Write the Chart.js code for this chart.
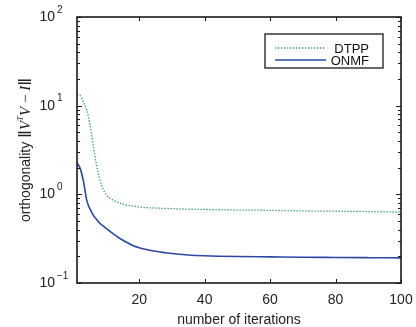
<!doctype html>
<html><head><meta charset="utf-8"><title>orthogonality vs iterations</title>
<script src="https://cdn.jsdelivr.net/npm/chart.js"></script>
<style>html,body{margin:0;padding:0;background:#fff}#wrap{width:416px;height:327px}</style>
</head><body>
<div id="wrap"><canvas id="c" width="416" height="327"></canvas></div>
<script>
// values
const iterations = [1, 2, 3, 4, 5, 6, 7, 8, 9, 10, 12, 14, 16, 18, 20, 25, 30, 35, 40, 50, 60, 70, 80, 90, 100];
const dtpp = [13.5, 12.9, 10.9, 8.9, 6.0, 3.5, 2.1, 1.45, 1.15, 0.98, 0.86, 0.8, 0.76, 0.74, 0.72, 0.70, 0.69, 0.68, 0.675, 0.665, 0.66, 0.65, 0.645, 0.64, 0.63];
const onmf = [2.27, 1.95, 1.38, 0.85, 0.68, 0.58, 0.52, 0.47, 0.44, 0.41, 0.36, 0.32, 0.29, 0.265, 0.25, 0.228, 0.215, 0.207, 0.203, 0.199, 0.197, 0.195, 0.194, 0.193, 0.192];
const seriesNames = ['DTPP', 'ONMF'];
const xTicks = [20, 40, 60, 80, 100];
const yMajor = [0.1, 1, 10, 100];
const yExp = ['\u22121', '0', '1', '2'];
const xTitle = 'number of iterations';

const FONT = '"Liberation Sans", Arial, sans-serif';
const SERIF = '"Liberation Serif", "DejaVu Serif", serif';
const GREEN = '#2f9a5c';
const BLUE = '#2b48a6';

function pts(ys){ return iterations.map((x,i) => ({ x, y: ys[i] })); }

const frame = {
  id: 'frame',
  afterDraw(chart){
    const { ctx, chartArea: a, scales: { x, y } } = chart;
    ctx.save();
    ctx.strokeStyle = '#1a1a1a';
    ctx.lineWidth = 1;
    ctx.beginPath();
    x.ticks.forEach(t => {
      const px = Math.round(x.getPixelForValue(t.value)) + 0.5;
      ctx.moveTo(px, a.bottom); ctx.lineTo(px, a.bottom - 4);
      ctx.moveTo(px, a.top); ctx.lineTo(px, a.top + 4);
    });
    y.ticks.forEach(t => {
      const py = Math.round(y.getPixelForValue(t.value)) + 0.5;
      const major = yMajor.some(m => Math.abs(m - t.value) / m < 1e-6);
      const len = major ? 5 : 3;
      ctx.moveTo(a.left, py); ctx.lineTo(a.left + len, py);
      ctx.moveTo(a.right, py); ctx.lineTo(a.right - len, py);
    });
    ctx.stroke();
    ctx.lineWidth = 1.6;
    ctx.strokeRect(a.left, a.top, a.width, a.height);

    // exponents for the 10^n labels
    ctx.fillStyle = '#222';
    ctx.font = '10px ' + FONT;
    ctx.textAlign = 'left';
    ctx.textBaseline = 'middle';
    yMajor.forEach((v, i) => {
      ctx.fillText(yExp[i], 57, y.getPixelForValue(v) - 7);
    });

    // legend
    const lx = 265, ly = 34, lw = 118, lh = 34;
    ctx.fillStyle = '#fff';
    ctx.fillRect(lx, ly, lw, lh);
    ctx.lineWidth = 1.3;
    ctx.strokeStyle = '#1a1a1a';
    ctx.strokeRect(lx, ly, lw, lh);
    const rows = [48, 60];
    chart.data.datasets.forEach((ds, i) => {
      ctx.save();
      ctx.strokeStyle = ds.borderColor;
      ctx.lineWidth = ds.borderWidth;
      ctx.setLineDash(ds.borderDash || []);
      ctx.beginPath();
      ctx.moveTo(275, rows[i]); ctx.lineTo(326, rows[i]);
      ctx.stroke();
      ctx.restore();
      ctx.fillStyle = '#111';
      ctx.font = '13px ' + FONT;
      ctx.textAlign = 'right';
      ctx.textBaseline = 'middle';
      ctx.fillText(ds.label, 369, rows[i] + 1);
    });

    // y axis title
    ctx.save();
    ctx.translate(26, 150);
    ctx.rotate(-Math.PI / 2);
    const parts = [
      { t: 'orthogonality ', f: '14px ' + FONT, dy: 0 },
      { t: '\u2016', f: '19px ' + FONT, dy: 0 },
      { t: 'V', f: 'italic 15px ' + SERIF, dy: 0 },
      { t: 'T', f: 'italic 9px ' + SERIF, dy: -5 },
      { t: 'V', f: 'italic 15px ' + SERIF, dy: 0 },
      { t: ' \u2212 ', f: '15px ' + SERIF, dy: 0 },
      { t: 'I', f: 'italic 15px ' + SERIF, dy: 0 },
      { t: '\u2016', f: '19px ' + FONT, dy: 0 }
    ];
    let total = 0;
    parts.forEach(p => { ctx.font = p.f; p.w = ctx.measureText(p.t).width; total += p.w; });
    let cx = -total / 2;
    ctx.fillStyle = '#222';
    ctx.textAlign = 'left';
    ctx.textBaseline = 'middle';
    parts.forEach(p => { ctx.font = p.f; ctx.fillText(p.t, cx, p.dy); cx += p.w; });
    ctx.restore();

    ctx.restore();
  }
};

new Chart(document.getElementById('c'), {
  type: 'line',
  data: {
    datasets: [
      { label: seriesNames[0], data: pts(dtpp), borderColor: GREEN, borderWidth: 1.3, borderDash: [1.3, 1.7],
        pointRadius: 0, cubicInterpolationMode: 'monotone', fill: false },
      { label: seriesNames[1], data: pts(onmf), borderColor: BLUE, borderWidth: 1.6,
        pointRadius: 0, cubicInterpolationMode: 'monotone', fill: false }
    ]
  },
  options: {
    responsive: false,
    animation: false,
    layout: { padding: { left: 0, right: 15, top: 17, bottom: 0 } },
    plugins: { legend: { display: false }, tooltip: { enabled: false } },
    scales: {
      x: {
        type: 'linear', min: 1, max: 100,
        afterBuildTicks: s => { s.ticks = xTicks.map(v => ({ value: v })); },
        afterFit: s => { s.height = 44; s.paddingLeft = 0; s.paddingRight = 0; },
        grid: { display: false, drawTicks: false },
        border: { display: false },
        ticks: { padding: 9, color: '#222', font: { family: FONT, size: 14 }, maxRotation: 0, autoSkip: false },
        title: { display: true, text: xTitle, color: '#222', font: { family: FONT, size: 14, lineHeight: 1 }, padding: 0 }
      },
      y: {
        type: 'logarithmic', min: 0.1, max: 100,
        afterBuildTicks: s => {
          const t = [];
          for (let e = -1; e <= 1; e++) for (let m = 1; m <= 9; m++) t.push({ value: m * Math.pow(10, e) });
          t.push({ value: 100 });
          s.ticks = t;
        },
        afterFit: s => { s.width = 77; s.paddingTop = 0; s.paddingBottom = 0; },
        grid: { display: false, drawTicks: false },
        border: { display: false },
        ticks: {
          padding: 22, color: '#222', font: { family: FONT, size: 14 }, autoSkip: false,
          callback: v => yMajor.some(m => Math.abs(m - v) / m < 1e-6) ? '10' : ''
        }
      }
    }
  },
  plugins: [frame]
});
</script>
</body></html>
